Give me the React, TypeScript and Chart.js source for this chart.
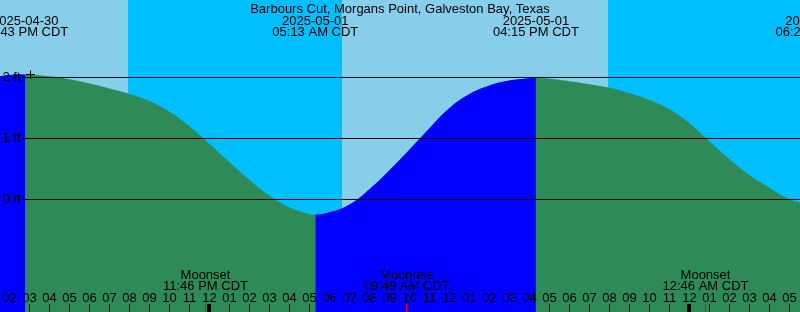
import { useEffect, useRef } from "react";
import { Chart, registerables } from "chart.js";

Chart.register(...registerables);

// Time axis: hours relative to 2025-05-01 00:00 CDT
const TITLE = "Barbours Cut, Morgans Point, Galveston Bay, Texas";

const sampleHours = [
  -11, -10, -9.21, -9, -8, -7, -6, -5, -4, -3, -2, -1, 0, 1, 2, 3, 4, 5, 5.29,
  6, 7, 8, 9, 10, 11, 12, 13, 14, 15, 16, 16.32, 17, 18, 19, 20, 21, 22, 23, 24,
  25, 26, 27, 28, 29, 30, 30.45, 31,
];
const tideFeet = [
  1.99, 2.04, 2.05, 2.048, 2.02, 1.97, 1.9, 1.82, 1.73, 1.61, 1.44, 1.2, 0.91,
  0.61, 0.32, 0.06, -0.13, -0.24, -0.25, -0.21, -0.08, 0.17, 0.48, 0.82, 1.17,
  1.5, 1.73, 1.87, 1.95, 1.988, 1.99, 1.98, 1.94, 1.89, 1.83, 1.74, 1.63, 1.48,
  1.25, 0.95, 0.66, 0.4, 0.19, 0.01, -0.09, -0.1, -0.07,
];

const extremeHours = [-9.21, 5.29, 16.32, 30.45];
const extremeDates = ["2025-04-30", "2025-05-01", "2025-05-01", "2025-05-02"];
const extremeTimes = ["02:43 PM CDT", "05:13 AM CDT", "04:15 PM CDT", "06:25 AM CDT"];

const moonHours = [-0.2, 9.86, 24.8];
const moonEvents = ["Moonset", "Moonrise", "Moonset"];
const moonTimes = ["11:46 PM CDT", "09:49 AM CDT", "12:46 AM CDT"];

const nightStarts = [-4.075, 19.925];
const nightEnds = [6.625, 30.6];

const hourTicks = [
  -10, -9, -8, -7, -6, -5, -4, -3, -2, -1, 0, 1, 2, 3, 4, 5, 6, 7, 8, 9, 10, 11,
  12, 13, 14, 15, 16, 17, 18, 19, 20, 21, 22, 23, 24, 25, 26, 27, 28, 29,
];
const hourLabels = [
  "02", "03", "04", "05", "06", "07", "08", "09", "10", "11", "12", "01", "02",
  "03", "04", "05", "06", "07", "08", "09", "10", "11", "12", "01", "02", "03",
  "04", "05", "06", "07", "08", "09", "10", "11", "12", "01", "02", "03", "04",
  "05",
];
const midnightHours = [0, 24];

const yLevels = [2, 1, 0];
const yLabels = ["2 ft", "1 ft", "0 ft"];

const X_MIN = -10.475;
const X_MAX = 29.525;
const Y_MIN = -1.8443;
const Y_MAX = 3.2705;

const DAY = "#87CEEB";
const NIGHT = "#00BFFF";
const FALLING = "#2E8B57";
const RISING = "#0000FF";
const FONT = '13px "Liberation Sans", Arial, sans-serif';

const overlay = {
  id: "xtideOverlay",
  beforeDatasetsDraw(chart: any) {
    const { ctx, chartArea, scales } = chart;
    const x = scales.x;
    ctx.save();
    ctx.fillStyle = DAY;
    ctx.fillRect(chartArea.left, chartArea.top, chartArea.right - chartArea.left, chartArea.bottom - chartArea.top);
    ctx.fillStyle = NIGHT;
    for (let i = 0; i < nightStarts.length; i++) {
      const a = Math.round(x.getPixelForValue(nightStarts[i]));
      const b = Math.round(x.getPixelForValue(nightEnds[i]));
      ctx.fillRect(a, chartArea.top, b - a, chartArea.bottom - chartArea.top);
    }
    ctx.restore();
  },
  afterDatasetsDraw(chart: any) {
    const { ctx, chartArea, scales } = chart;
    const x = scales.x;
    const y = scales.y;
    ctx.save();
    ctx.fillStyle = "#000";
    ctx.strokeStyle = "#000";
    ctx.font = FONT;

    // horizontal level lines + labels
    ctx.lineWidth = 1;
    yLevels.forEach((lv, i) => {
      const py = y.getPixelForValue(lv);
      ctx.beginPath();
      ctx.moveTo(22, py);
      ctx.lineTo(chartArea.right, py);
      ctx.stroke();
      ctx.textAlign = "left";
      ctx.textBaseline = "alphabetic";
      ctx.fillText(yLabels[i], 2.5, py + 3.5);
    });

    // "+" mark
    ctx.beginPath();
    ctx.moveTo(26, 74.5);
    ctx.lineTo(35, 74.5);
    ctx.moveTo(30.5, 70.5);
    ctx.lineTo(30.5, 79);
    ctx.stroke();

    // title
    ctx.textAlign = "center";
    ctx.textBaseline = "alphabetic";
    ctx.fillText(TITLE, (chartArea.left + chartArea.right) / 2, 12.5);

    // extremes
    extremeHours.forEach((h, i) => {
      const px = x.getPixelForValue(h);
      ctx.fillText(extremeDates[i], px, 24.5);
      ctx.fillText(extremeTimes[i], px, 36.2);
    });

    // moon events
    moonHours.forEach((h, i) => {
      const px = x.getPixelForValue(h);
      ctx.fillText(moonEvents[i], px, 278.5);
      ctx.fillText(moonTimes[i], px, 290.3);
    });

    // hour labels and ticks
    hourTicks.forEach((h, i) => {
      const px = x.getPixelForValue(h);
      ctx.fillText(hourLabels[i], px, 302);
      ctx.fillRect(Math.floor(px), 304, 1, 8);
    });
    midnightHours.forEach((h) => {
      const px = x.getPixelForValue(h);
      ctx.fillRect(Math.floor(px) - 2, 304, 4, 8);
    });
    ctx.fillStyle = "#FF0000";
    moonHours.forEach((h) => {
      const px = x.getPixelForValue(h);
      ctx.fillRect(Math.floor(px), 304, 1, 8);
    });
    ctx.restore();
  },
};

export default function App() {
  const ref = useRef<HTMLCanvasElement | null>(null);
  useEffect(() => {
    document.body.style.margin = "0";
    if (!ref.current) return;
    const points = sampleHours.map((t, i) => ({ x: t, y: tideFeet[i] }));
    const common = {
      data: points,
      borderWidth: 0,
      borderColor: "rgba(0,0,0,0)",
      pointRadius: 0,
      fill: "start",
      tension: 0.4,
    };
    const chart = new Chart(ref.current, {
      type: "line",
      data: {
        datasets: [
          // rising water (drawn on top)
          {
            ...common,
            backgroundColor: RISING,
            segment: {
              backgroundColor: (c: any) =>
                c.p1.parsed.y > c.p0.parsed.y ? RISING : "rgba(0,0,0,0)",
            },
          } as any,
          // falling water (full-area base layer)
          {
            ...common,
            backgroundColor: FALLING,
          } as any,
        ],
      },
      options: {
        animation: false,
        responsive: false,
        devicePixelRatio: 1,
        layout: { padding: 0 },
        plugins: { legend: { display: false }, tooltip: { enabled: false } },
        events: [],
        scales: {
          x: { type: "linear", min: X_MIN, max: X_MAX, display: false },
          y: { type: "linear", min: Y_MIN, max: Y_MAX, display: false },
        },
      },
      plugins: [overlay],
    });
    return () => chart.destroy();
  }, []);
  return (
    <div style={{ width: 800, height: 312, position: "relative" }}>
      <canvas ref={ref} width={800} height={312} />
    </div>
  );
}
